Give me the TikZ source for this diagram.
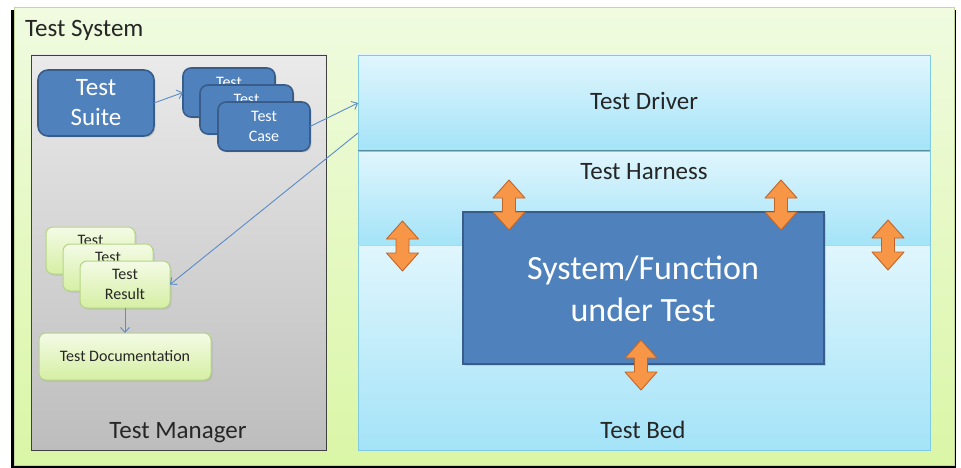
\documentclass[tikz,border=0pt]{standalone}
\usepackage{fontspec}
\setmainfont{Carlito}
\usetikzlibrary{arrows.meta,shadows}
\definecolor{txt}{HTML}{262626}
\definecolor{bluef}{HTML}{4F81BD}
\definecolor{blueb}{HTML}{385D8A}
\definecolor{greent}{HTML}{F4FBE6}
\definecolor{greenb}{HTML}{D5EFA3}
\definecolor{greenl}{HTML}{B5D585}
\definecolor{sysT}{HTML}{F0FBE0}
\definecolor{sysB}{HTML}{DAF6A6}
\definecolor{sysL}{HTML}{C3D69B}
\definecolor{mgrT}{HTML}{EAEAEA}
\definecolor{mgrB}{HTML}{BDBDBD}
\definecolor{mgrL}{HTML}{404040}
\definecolor{panT}{HTML}{E0F6FD}
\definecolor{panB}{HTML}{A4E3F8}
\definecolor{panL}{HTML}{7FCBE3}
\definecolor{orf}{HTML}{F79646}
\definecolor{orb}{HTML}{C0652A}
\definecolor{conn}{HTML}{5B8BC9}
\tikzset{
  box/.style={anchor=north west, inner sep=0pt, outer sep=0pt},
  sysbox/.style={box, top color=sysT, bottom color=sysB, draw=sysL, line width=1pt},
  mgrbox/.style={box, top color=mgrT, bottom color=mgrB, draw=mgrL, line width=0.9pt},
  panel/.style={box, top color=panT, bottom color=panB, draw=panL, line width=0.9pt},
  bluecard/.style={box, fill=bluef, draw=blueb, line width=1.6pt, rounded corners=8pt,
     text=white, align=center, drop shadow={opacity=0.25, shadow xshift=1.5pt, shadow yshift=-1.5pt}},
  greencard/.style={box, top color=greent, bottom color=greenb, draw=greenl, line width=1pt,
     rounded corners=7pt, text=txt, align=center, drop shadow={opacity=0.2, shadow xshift=1.5pt, shadow yshift=-1.5pt}},
  lbl/.style={anchor=base, text=txt, font=\fontsize{25}{30}\selectfont, inner sep=0pt},
  small/.style={font=\fontsize{16}{20}\selectfont},
  conn/.style={draw=conn, line width=0.9pt, -{Straight Barb[length=5pt,width=9pt]}},
  dblarrow/.pic={\draw[draw=orb, fill=orf, line width=0.9pt, line join=round]
     (0,-25)--(16,-7)--(6.5,-7)--(6.5,7)--(16,7)--(0,25)--(-16,7)--(-6.5,7)--(-6.5,-7)--(-16,-7)--cycle;}
}
\begin{document}
\begin{tikzpicture}[x=1pt,y=-1pt]
\useasboundingbox (0,0) rectangle (961,468);
\fill[white] (0,0) rectangle (961,468);
% Test System
\fill[black] (11,10) rectangle (956,468);
\node[sysbox, minimum width=940pt, minimum height=457pt] (sys) at (14.5,8) {};
\node[lbl, anchor=base west] (systxt) at (25,37) {Test System};
% Test Manager
\node[mgrbox, minimum width=295pt, minimum height=395pt] (mgr) at (31,55) {};
\node[lbl] (mgrtxt) at (178,438) {Test Manager};
% Panels
\node[panel, minimum width=572pt, minimum height=96pt] (driver) at (358,55) {};
\node[panel, draw=none, minimum width=572pt, minimum height=94pt] (harness) at (358,151) {};
\node[panel, draw=none, minimum width=572pt, minimum height=205pt] (bed) at (358,245) {};
\draw[panL, line width=0.9pt] (harness.north west) rectangle (bed.south east);
\draw[panB!80!panL, line width=0.7pt] (harness.south west) -- (harness.south east);
\draw[panL!70!black, line width=1pt] (driver.south west) -- (driver.south east);
\node[lbl] (drvtxt) at (644,110) {Test Driver};
\node[lbl] (hartxt) at (644,179) {Test Harness};
\node[lbl] (bedtxt) at (643,438) {Test Bed};
% SUT
\node[box, fill=bluef, draw=blueb, line width=1.6pt, minimum width=361pt, minimum height=152pt,
      drop shadow={opacity=0.25, shadow xshift=1.5pt, shadow yshift=-1.5pt}] (sut) at (463,212) {};
\node[text=white, align=center, font=\fontsize{34}{42}\selectfont, inner sep=0pt] (suttxt) at (643,289) {System/Function\\under Test};
% orange arrows
\pic at (509,205) {dblarrow};
\pic at (781,205) {dblarrow};
\pic at (402.5,246) {dblarrow};
\pic at (888,245) {dblarrow};
\pic at (641,365) {dblarrow};
% Test Suite
\node[bluecard, minimum width=116pt, minimum height=66pt, rounded corners=10pt,
      font=\fontsize{25}{30}\selectfont] (suite) at (38,70) {Test\\Suite};
% Test Cases
\node[bluecard, minimum width=92pt, minimum height=49pt, small] (case1) at (183,68) {Test\\\phantom{Case}};
\node[bluecard, minimum width=93pt, minimum height=49pt, small] (case2) at (200,85) {Test\\\phantom{Case}};
\node[bluecard, minimum width=92pt, minimum height=49pt, small] (case3) at (218,102) {Test\\Case};
% Test Results
\node[greencard, minimum width=89pt, minimum height=47pt, small] (res1) at (46,227) {Test\\\phantom{Result}};
\node[greencard, minimum width=90pt, minimum height=47pt, small] (res2) at (63,244) {Test\\\phantom{Result}};
\node[greencard, minimum width=90pt, minimum height=47pt, small] (res3) at (80,261) {Test\\Result};
\node[greencard, minimum width=172pt, minimum height=47pt, small] (doc) at (39,333) {Test Documentation};
% connectors
\draw[conn] (suite.east) -- (case1.west);
\draw[conn] (case3.east) -- (driver.west);
\draw[conn] ([yshift=18pt]driver.south west) -- (res3.east);
\draw[conn] (res3.south) -- (doc.north);
\end{tikzpicture}
\end{document}
